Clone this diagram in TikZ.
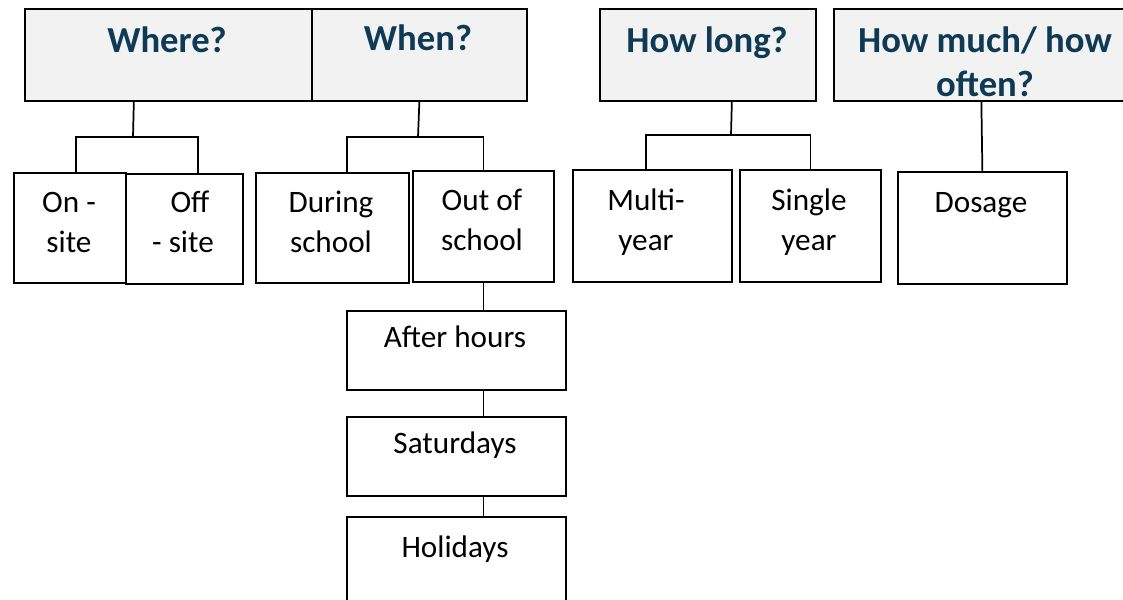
\documentclass[tikz,border=0pt]{standalone}
\usepackage{fontspec}
\setmainfont{Carlito}
\usetikzlibrary{positioning}
\definecolor{headblue}{HTML}{0E3A55}
\definecolor{headgray}{HTML}{F2F2F2}
\tikzset{
  box/.style={draw, line width=1.3pt, inner sep=0pt, anchor=north west},
  head/.style={box, fill=headgray},
  headtext/.style={anchor=base, align=center, text=headblue,
    font=\fontsize{27.5}{33}\selectfont\bfseries},
  boxtext/.style={anchor=base, align=center,
    font=\fontsize{23.4}{30}\selectfont},
  link/.style={line width=1.3pt}
}

\begin{document}
\begin{tikzpicture}[x=0.75pt, y=-0.75pt]
\useasboundingbox (0,0) rectangle (1123,599);

% the questions
\node [head, minimum width=287*0.75pt, minimum height=92*0.75pt] (where) at (24,8) {};
\node [head, minimum width=215*0.75pt, minimum height=92*0.75pt] (when) at (311,8) {};
\node [head, minimum width=216*0.75pt, minimum height=92*0.75pt] (howlong) at (599,8) {};
\node [head, minimum width=295*0.75pt, minimum height=92*0.75pt] (howmuch) at (833,8) {};

\node [headtext] (wheretxt) at (167,53) {Where?};
\node [headtext] (whentxt) at (418,51) {When?};
\node [headtext] (howlongtxt) at (707,53) {How long?};
\node [headtext] (howmuchtxt) at (985,97) {How much/ how\\often?};

% the answers
\node [box, minimum width=112*0.75pt, minimum height=110*0.75pt] (onsite) at (13,172) {};
\node [box, minimum width=117*0.75pt, minimum height=110*0.75pt] (offsite) at (125,173) {};
\node [box, minimum width=153*0.75pt, minimum height=110*0.75pt] (during) at (255,172) {};
\node [box, minimum width=141*0.75pt, minimum height=111*0.75pt] (outschool) at (412,170) {};
\node [box, minimum width=159*0.75pt, minimum height=112*0.75pt] (multiyear) at (572,169) {};
\node [box, minimum width=141*0.75pt, minimum height=112*0.75pt] (singleyear) at (739,169) {};
\node [box, minimum width=169*0.75pt, minimum height=112*0.75pt] (dosage) at (897,171) {};

% (base is the last line)
\node [boxtext] (onsitetxt) at (69,252) {On -\\site};
\node [boxtext] (offsitetxt) at (183,252) {\hspace*{0.45em}Off\\- site};
\node [boxtext] (duringtxt) at (331,252) {During\\school};
\node [boxtext] (outschooltxt) at (482,250) {Out of\\school};
\node [boxtext] (multiyeartxt) at (646,250) {Multi-\\year};
\node [boxtext] (singleyeartxt) at (809,250) {Single\\year};
\node [boxtext] (dosagetxt) at (981,212) {Dosage};

% out of school
\node [box, minimum width=219*0.75pt, minimum height=79*0.75pt] (afterhours) at (346,310) {};
\node [box, minimum width=219*0.75pt, minimum height=79*0.75pt] (saturdays) at (346,416) {};
\node [box, minimum width=219*0.75pt, minimum height=92*0.75pt] (holidays) at (346,516) {};

\node [boxtext] (afterhourstxt) at (455,347) {After hours};
\node [boxtext] (saturdaystxt) at (455,453) {Saturdays};
\node [boxtext] (holidaystxt) at (455,557) {Holidays};

% the links
\coordinate (wherefork) at (133,137);
\coordinate (whenfork) at (418,137);
\coordinate (longfork) at (731,135);

\draw [link] ([xshift=-25.9pt]where.south) -- (wherefork);
\draw [link] ([xshift=4.5pt]onsite.north) |- (wherefork) -| ([xshift=10.1pt]offsite.north);

\draw [link] (when.south) -- (whenfork);
\draw [link] ([xshift=10.9pt]during.north) |- (whenfork) -| (outschool.north);

\draw [link] ([xshift=18pt]howlong.south) -- (longfork);
\draw [link] ([xshift=-4.9pt]multiyear.north) |- (longfork) -| (singleyear.north);

\draw [link] (howmuch.south) -- (dosage.north);

\draw [link] (outschool.south) -- (outschool.south |- afterhours.north);
\draw [link] (afterhours.south -| outschool.south) -- (saturdays.north -| outschool.south);
\draw [link] (saturdays.south -| outschool.south) -- (holidays.north -| outschool.south);
\end{tikzpicture}
\end{document}
